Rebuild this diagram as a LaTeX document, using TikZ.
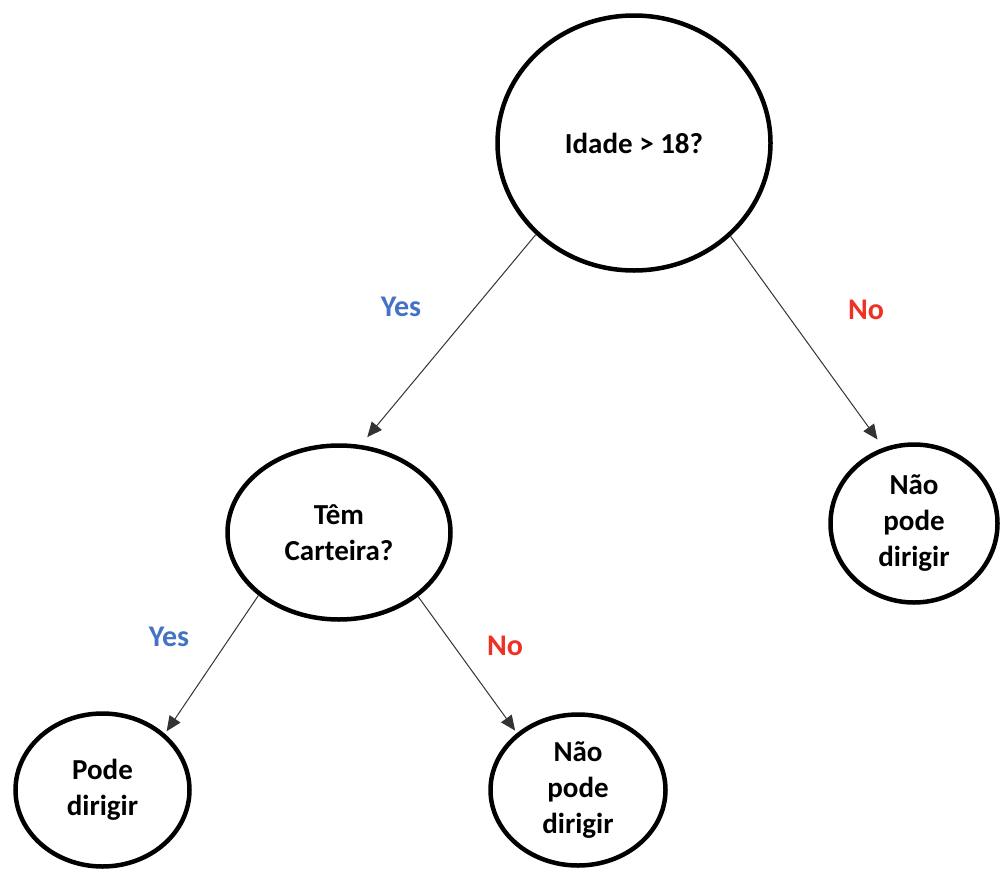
\documentclass[tikz,border=0pt]{standalone}
\usepackage{fontspec}
\setmainfont{Carlito}
\usetikzlibrary{shapes.geometric,arrows.meta}

\definecolor{yesblue}{HTML}{4472C4}
\definecolor{nored}{HTML}{EE3124}

\tikzset{
  decision/.style={ellipse, draw=black, line width=4.5pt, inner sep=0pt,
    align=center, font=\fontsize{29}{36}\selectfont\bfseries},
  branch/.style={draw=black!80, line width=1pt,
    -{Triangle[length=15pt,width=13pt]}},
  yeslabel/.style={text=yesblue, font=\fontsize{30}{36}\selectfont\bfseries, inner sep=0pt},
  nolabel/.style={text=nored, font=\fontsize{30}{36}\selectfont\bfseries, inner sep=0pt}
}

\begin{document}
\begin{tikzpicture}[x=1pt, y=-1pt]
  \useasboundingbox (0,0) rectangle (1001,870);

  % decision nodes
  \node[decision, minimum width=273pt, minimum height=255pt] (age) at (634,143) {Idade > 18?};
  \node[decision, minimum width=223pt, minimum height=174pt] (licence) at (339,532.5) {Têm\\Carteira?};
  \node[decision, minimum width=167pt, minimum height=158pt] (noold) at (914,523.5) {Não\\pode\\dirigir};
  \node[decision, minimum width=174pt, minimum height=153pt] (yesdrive) at (102.5,790) {Pode\\dirigir};
  \node[decision, minimum width=175pt, minimum height=151pt] (nolic) at (578,790) {Não\\pode\\dirigir};

  % branches
  \draw[branch, shorten >=10pt] (age.223.5) -- (licence.76.3);
  \draw[branch, shorten >=10pt] (age.316.5) -- (noold.112.2);
  \draw[branch, shorten >=3pt] (licence.218.1) -- (yesdrive.42);
  \draw[branch, shorten >=3pt] (licence.321) -- (nolic.137.4);

  % branch labels
  \node[yeslabel] (y1) at (401,307) {Yes};
  \node[nolabel] (n1) at (866,310) {No};
  \node[yeslabel] (y2) at (169,637) {Yes};
  \node[nolabel] (n2) at (505,646) {No};
\end{tikzpicture}
\end{document}
